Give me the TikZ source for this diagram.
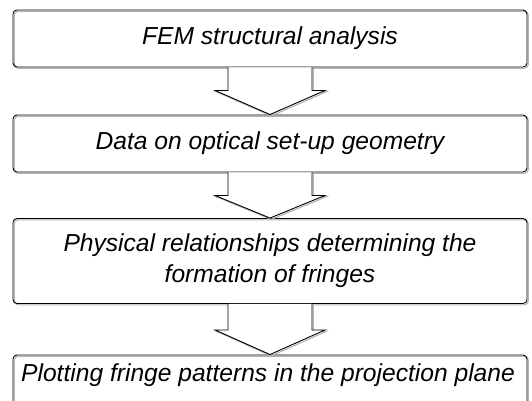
\documentclass[tikz,border=0pt]{standalone}
\usepackage{fontspec}
\setmainfont{Liberation Sans}
\usetikzlibrary{calc}
\tikzset{
  px/.style={x=1pt,y=-1pt},
  boxtext/.style={font=\fontsize{24.6}{31}\selectfont\itshape},
  box/.style={draw=black, line width=0.9pt, rounded corners=4pt,
    minimum width=514pt, inner sep=0pt, align=center, boxtext,
    preaction={draw=gray!60, line width=1.1pt, transform canvas={shift={(1.3pt,-1.3pt)}}}},
  flowarrow/.style={draw=black, line width=0.9pt, fill=white, line join=miter,
    preaction={draw=gray!60, line width=1.1pt, transform canvas={shift={(1.3pt,-1.3pt)}}}}
}
\begin{document}
\begin{tikzpicture}[px]
\useasboundingbox (0,0) rectangle (532,400);
\clip (0,0) rectangle (532,400);
\node[box, minimum height=57pt] (b1) at (270,38.5) {FEM structural analysis};
\node[box, minimum height=57pt] (b2) at (270,143.5) {Data on optical set-up geometry};
\node[box, minimum height=85pt] (b3) at (270,261) {Physical relationships determining the\\formation of fringes};
\node[box, minimum height=80pt] (b4) at (270,395) {};
\node[boxtext, inner sep=0pt] (t4) at (268,375) {Plotting fringe patterns in the projection plane};
% arrows
\draw[flowarrow] ($(b1.south)+(-42,0)$) -- ++(0,23) -- ++(-13,0) -- (b2.north) -- ($(b1.south)+(55,23)$) -- ++(-13,0) -- ($(b1.south)+(42,0)$);
\draw[flowarrow] ($(b2.south)+(-42,0)$) -- ++(0,23) -- ++(-13,0) -- (b3.north) -- ($(b2.south)+(55,23)$) -- ++(-13,0) -- ($(b2.south)+(42,0)$);
\draw[flowarrow] ($(b3.south)+(-42,0)$) -- ++(0,26) -- ++(-13,0) -- (b4.north) -- ($(b3.south)+(55,26)$) -- ++(-13,0) -- ($(b3.south)+(42,0)$);
\end{tikzpicture}
\end{document}
